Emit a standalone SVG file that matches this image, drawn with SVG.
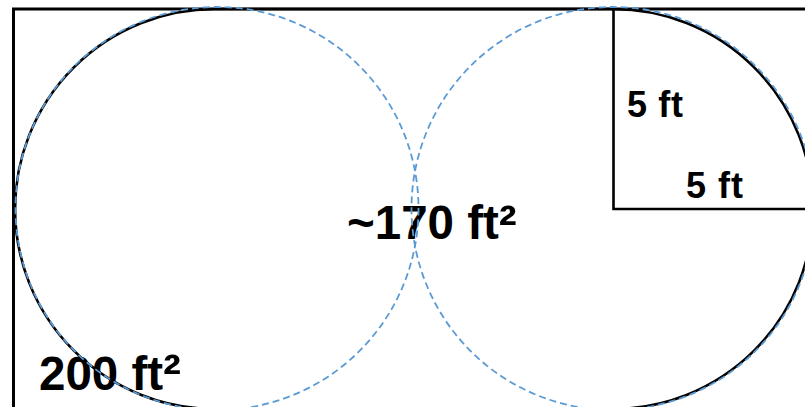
<svg xmlns="http://www.w3.org/2000/svg" width="805" height="407" viewBox="0 0 805 407">
<style>
.ln{fill:none;stroke:#000;stroke-width:2.6}
.dash{fill:none;stroke:#5B9BD5;stroke-width:1.8;stroke-dasharray:7 4}
.lbl{font-family:"Liberation Sans",Arial,sans-serif;font-weight:bold;fill:#000}
.sup{font-size:54px}
</style>
<rect width="805" height="407" fill="#fff"/>
<g id="frame">
<rect class="ln" x="13.5" y="9" width="820" height="420" style="stroke-width:3"/>
</g>
<g id="stadium">
<path class="ln" d="M215 9 H613 A200 200 0 0 1 613 409 H215 A200 200 0 0 1 215 9 Z"/>
</g>
<g id="square">
<path class="ln" d="M613.5 9 V209 H820"/>
</g>
<g id="labels">
<text class="lbl" x="627" y="117" font-size="36" textLength="56">5 ft</text>
<text class="lbl" x="686" y="198" font-size="36" textLength="57">5 ft</text>
<text class="lbl" x="347" y="239" font-size="47.5">~170 ft<tspan class="sup" dy="5">²</tspan></text>
<text class="lbl" x="39" y="390" font-size="47.5">200 ft<tspan class="sup" dy="3">²</tspan></text>
</g>
<g id="circles">
<circle class="dash" cx="217" cy="208.5" r="201.5"/>
<circle class="dash" cx="613" cy="208.5" r="201.5"/>
</g>
</svg>
